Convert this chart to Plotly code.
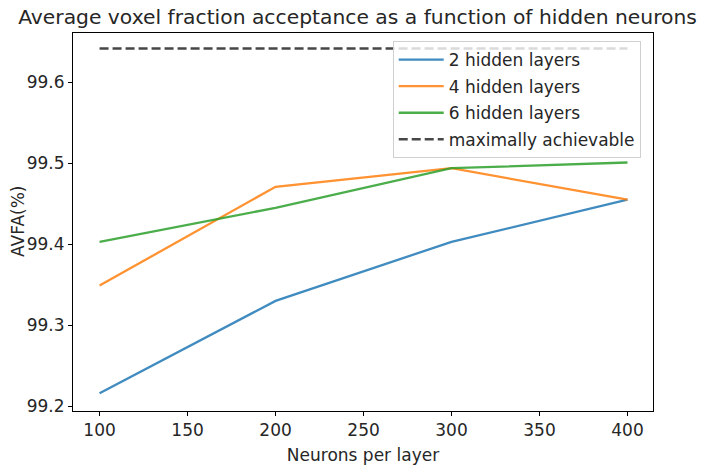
import plotly.graph_objects as go

neurons = [100, 200, 300, 400]
layers2 = [99.216, 99.330, 99.403, 99.455]
layers4 = [99.349, 99.471, 99.494, 99.455]
layers6 = [99.403, 99.445, 99.494, 99.501]
max_achievable = [99.642, 99.642]
max_x = [100, 400]

series = [
    ("2 hidden layers", layers2, "#1f77b4"),
    ("4 hidden layers", layers4, "#ff7f0e"),
    ("6 hidden layers", layers6, "#2ca02c"),
]

FONT = "DejaVu Sans"
TXT = "#262626"
fig = go.Figure()
for i, (name, vals, col) in enumerate(series):
    fig.add_trace(go.Scatter(x=neurons, y=vals, mode="lines", name=name, legendgroup=f"g{i}",
                             line=dict(color=col, width=2.3), opacity=0.85))
fig.add_trace(go.Scatter(x=max_x, y=max_achievable, mode="lines", name="maximally achievable",
                         legendgroup="g3",
                         line=dict(color="#333333", width=2.5, dash="9px,4px"), opacity=0.9))

# page has an 8px body offset; compensate
W, H = 705, 463
L, T = 65, 25
PW, PH = 580.5, 378
R = W - L - PW
B = H - T - PH
fig.update_layout(
    width=W, height=H,
    margin=dict(l=L, r=R, t=T, b=B, autoexpand=False),
    paper_bgcolor="white", plot_bgcolor="white",
    font=dict(family=FONT, size=17, color=TXT),
    title=dict(text="Average voxel fraction acceptance as a function of hidden neurons",
               x=349.5 / W, xanchor="center", xref="container", y=1 - 1.5 / H, yanchor="top",
               pad=dict(t=0, b=0),
               font=dict(size=20.3, family=FONT, color=TXT)),
    showlegend=True,
    legend=dict(x=(385 - L) / PW, xanchor="left", y=(T + PH - 33) / PH, yanchor="top",
                bgcolor="rgba(255,255,255,0.8)", bordercolor="#d0d0d0", borderwidth=1,
                font=dict(size=17, family=FONT, color=TXT), tracegroupgap=1.5,
                itemwidth=45),
    xaxis=dict(range=[84.9, 414.5], tickvals=[100, 150, 200, 250, 300, 350, 400],
               showgrid=False, zeroline=False, showline=True, linecolor="black", linewidth=1,
               mirror=True, ticks="outside", ticklen=4, tickcolor="black", automargin=False,
               title=dict(text="Neurons per layer", standoff=9, font=dict(size=17, family=FONT))),
    yaxis=dict(range=[99.194, 99.661], tickvals=[99.2, 99.3, 99.4, 99.5, 99.6],
               ticktext=["99.2", "99.3", "99.4", "99.5", "99.6"], automargin=False,
               showgrid=False, zeroline=False, showline=True, linecolor="black", linewidth=1,
               mirror=True, ticks="outside", ticklen=4, tickcolor="black"),
)
fig.add_annotation(text="AVFA(%)", xref="paper", yref="paper", x=0, y=0.5,
                   xanchor="center", yanchor="middle", textangle=-90, showarrow=False,
                   xshift=10 - L, font=dict(size=17, family=FONT, color=TXT))
fig.write_html("out.html")
